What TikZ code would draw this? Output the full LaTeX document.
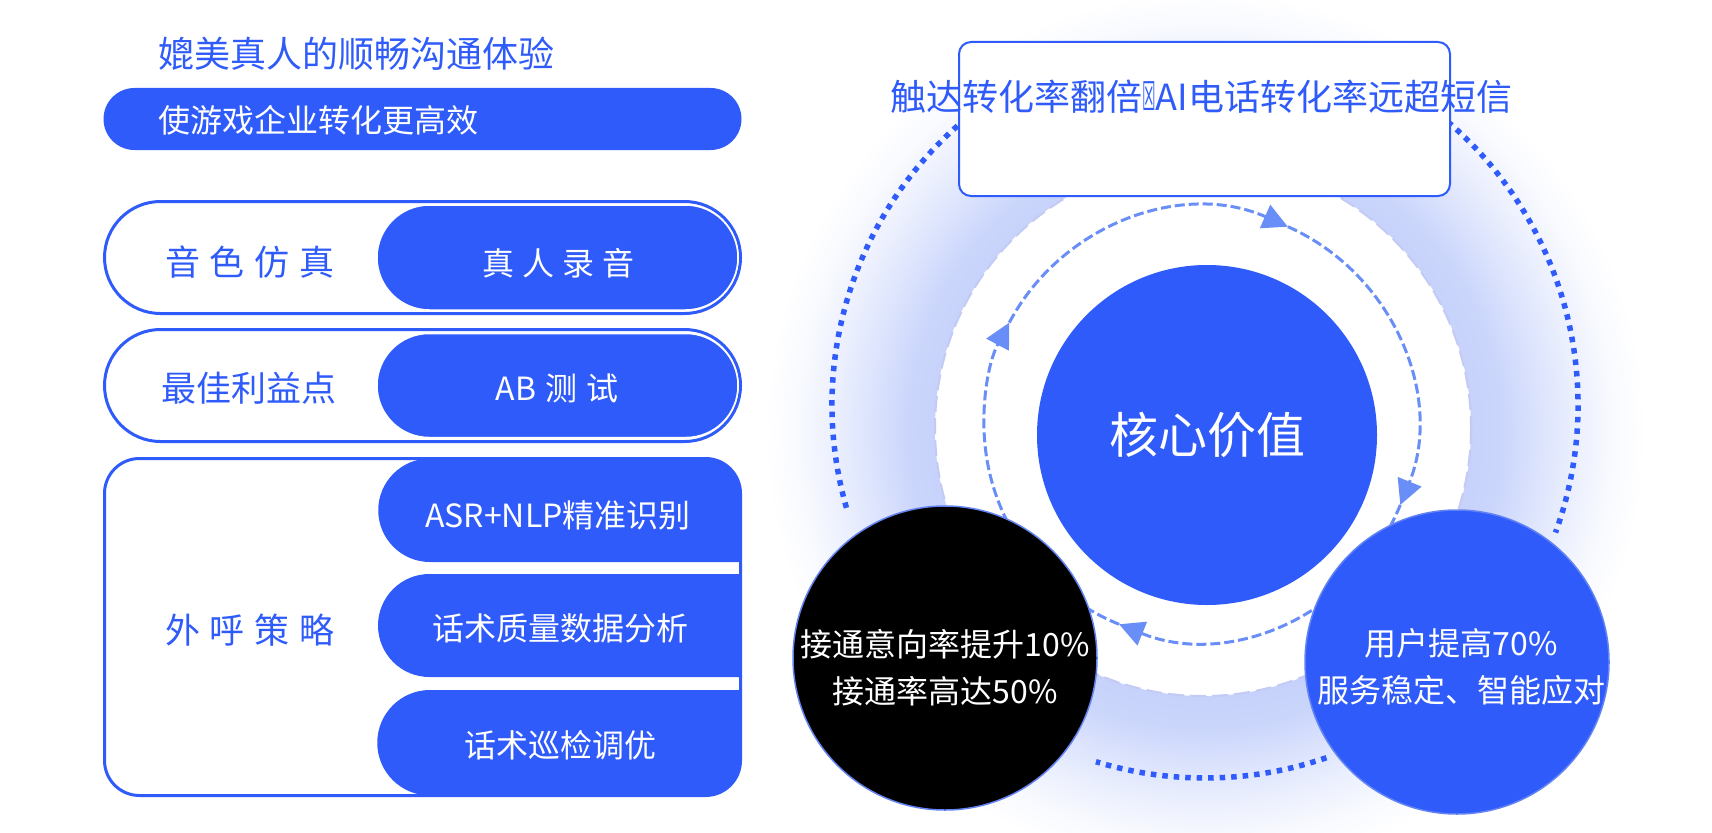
\documentclass[tikz,border=0pt]{standalone}
\usepackage{fontspec}
\setmainfont{Noto Sans CJK SC}
\newfontfamily\symbolfont{DejaVu Sans}
\usetikzlibrary{arrows.meta,positioning,calc,shapes.misc}
\definecolor{mainblue}{HTML}{2F5BFA}
\definecolor{arrowblue}{HTML}{6A8EF7}
\definecolor{glowblue}{HTML}{C6D2FB}
\definecolor{ringgray}{HTML}{C3CBF5}
\definecolor{rimblue}{HTML}{6383F3}
\pgfdeclareradialshading{glowshade}{\pgfpoint{0bp}{0bp}}{color(0bp)=(glowblue); color(15bp)=(glowblue); color(16.9bp)=(glowblue!92!white); color(19bp)=(glowblue!62!white); color(21.1bp)=(glowblue!34!white); color(23.3bp)=(glowblue!10!white); color(25bp)=(white); color(50bp)=(white)}
\newcommand{\tofu}{{\symbolfont\scalebox{0.42}[1.1]{☒}}}
\newcommand{\wide}{\hspace{10pt}}

\begin{document}
\begin{tikzpicture}
[x=1pt,y=-1pt, inner sep=0pt,
pill/.style={rounded rectangle, minimum width=636pt, minimum height=112pt, draw=mainblue, line width=3pt},
pillfill/.style={rounded rectangle, minimum width=361pt, minimum height=105pt, fill=mainblue, draw=white, line width=1.5pt},
txt/.style={font=\fontsize{35}{40}\selectfont, text=mainblue},
wtxt/.style={font=\fontsize{32}{38}\selectfont, text=white},
cyc/.style={draw=arrowblue, line width=3pt, dash pattern=on 10pt off 4pt, -{Triangle[length=25pt,width=25pt]}},
dots/.style={draw=mainblue, line width=5.5pt, dash pattern=on 5.5pt off 6pt},
bubble/.style={circle, minimum size=304pt, draw=rimblue, line width=1.5pt}]

\useasboundingbox (0,0) rectangle (1712,832);

\node (head) at (158,54)[anchor=west, font=\fontsize{36}{40}\selectfont, text=mainblue] {媲美真人的顺畅沟通体验};
\node (goal) at (422.5,119)[rounded rectangle, fill=mainblue, minimum width=638pt, minimum height=62pt] {};
\node (goaltxt) at (158,120)[anchor=west, wtxt] {使游戏企业转化更高效};

\node (voice) at (422.5,257.5)[pill] {};
\node (voicefill) at (557.5,257.5)[pillfill] {};
\node (voicel) at (250,262)[txt] {音\wide 色\wide 仿\wide 真};
\node (voicer) at (558,263)[wtxt] {真\hspace{8pt}人\hspace{8pt}录\hspace{8pt}音};

\node (best) at (422.5,385.5)[pill] {};
\node (bestfill) at (557.5,385.5)[pillfill, minimum height=104pt] {};
\node (bestl) at (249,388)[txt] {最佳利益点};
\node (bestr) at (557,388)[wtxt] {AB\hspace{9pt}测\hspace{9pt}试};

\fill[mainblue] (740.5,562) -- (430,562) arc[start angle=90, end angle=270, radius=51.75] -- (705.5,458.5) arc[start angle=270, end angle=360, radius=35] -- cycle;
\fill[mainblue] (740.5,677) -- (429.5,677) arc[start angle=90, end angle=270, radius=51.5] -- (740.5,574) -- cycle;
\fill[mainblue] (740.5,760.5) -- (740.5,690) -- (430,690) arc[start angle=270, end angle=90, radius=52.75] -- (705.5,795.5) arc[start angle=90, end angle=0, radius=35] -- cycle;
\draw[mainblue, line width=3pt, rounded corners=35pt] (104.5,458.5) rectangle (740.5,795.5);
\node (asr) at (558,515)[wtxt] {ASR+NLP精准识别};
\node (qa) at (560,628)[wtxt] {话术质量数据分析};
\node (tune) at (560,745)[wtxt] {话术巡检调优};
\node (plan) at (250,630)[txt] {外\wide 呼\wide 策\wide 略};

\coordinate (hub) at (1200,424);
\coordinate (orbit) at (1205,405);
\shade[shading=glowshade] (1205,432) circle[radius=440];
\draw[ringgray, line width=2pt, dash pattern=on 16pt off 6pt, fill=white] (1203,428) circle[radius=268];

\draw[dots] (orbit) ++(164:373) arc[start angle=164, end angle=245, radius=373];
\draw[dots] (orbit) ++(-60:373) arc[start angle=-60, end angle=20, radius=373];
\draw[dots] (orbit) ++(71:373) arc[start angle=71, end angle=107, radius=373];

\draw[cyc] (hub) ++(-152:216) arc[start angle=-152, end angle=-66, radius=216];
\draw[cyc] (hub) ++(-66:216) arc[start angle=-66, end angle=22, radius=216];
\draw[cyc] (hub) ++(22:216) arc[start angle=22, end angle=112, radius=216];
\draw[cyc] (hub) ++(112:216) arc[start angle=112, end angle=208, radius=216];

\node (core) at (1207,435)[circle, fill=mainblue, minimum size=340pt, text=white, font=\fontsize{49}{56}\selectfont] {核心价值};
\node (reach) at (945,658)[bubble, fill=black] {};
\node (reachtxt) at (945,668)[wtxt, align=center, font=\fontsize{32}{47}\selectfont] {接通意向率提升10\%\\接通率高达50\%};
\node (users) at (1457,662)[bubble, fill=mainblue] {};
\node (userstxt) at (1461,667)[wtxt, align=center, font=\fontsize{32}{47}\selectfont] {用户提高70\%\\服务稳定、智能应对};

\node (lift) at (1204.5,119)[draw=mainblue, line width=2pt, fill=white, rounded corners=12pt, minimum width=491pt, minimum height=154pt] {};
\node (lifttxt) at (1201,97)[font=\fontsize{36}{40}\selectfont, text=mainblue] {触达转化率翻倍\tofu AI电话转化率远超短信};
\end{tikzpicture}
\end{document}
